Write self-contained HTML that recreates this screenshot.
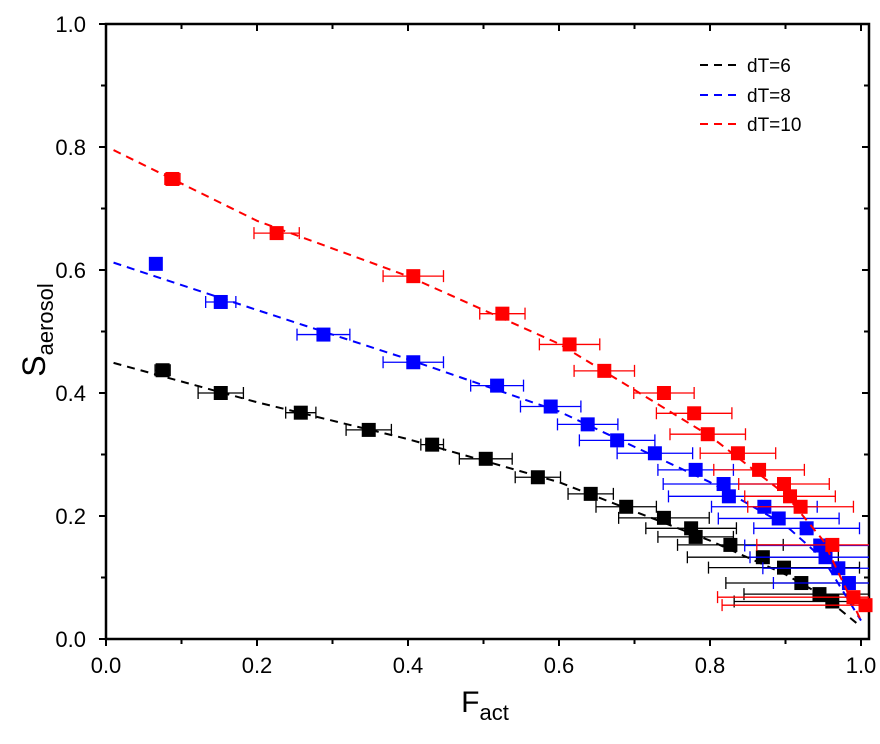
<!DOCTYPE html>
<html><head><meta charset="utf-8"><style>
body{margin:0;background:#fff}
svg{display:block;font-family:"Liberation Sans",Arial,sans-serif}
</style></head><body>
<svg id="chart" width="880" height="744">
<g id="plot"></g>
</svg>
<script>
const xTicks=[0,0.2,0.4,0.6,0.8,1.0];
const yTicks=[0,0.2,0.4,0.6,0.8,1.0];
const tickLabels=["0.0","0.2","0.4","0.6","0.8","1.0"];
const seriesNames=["dT=6","dT=8","dT=10"];
const seriesColors=["#000","#0000ff","#ff0000"];
const blackX=[0.075,0.152,0.258,0.348,0.432,0.503,0.572,0.642,0.689,0.739,0.775,0.781,0.827,0.870,0.898,0.921,0.945,0.962];
const blackY=[0.437,0.400,0.368,0.340,0.316,0.293,0.263,0.236,0.215,0.197,0.180,0.166,0.153,0.133,0.116,0.091,0.073,0.061];
const blackErr=[0.01,0.03,0.02,0.03,0.015,0.035,0.03,0.03,0.04,0.06,0.06,0.05,0.07,0.1,0.1,0.1,0.1,0.13];
const blueX=[0.066,0.152,0.288,0.407,0.518,0.589,0.638,0.677,0.727,0.781,0.818,0.825,0.872,0.891,0.928,0.946,0.953,0.970,0.984];
const blueY=[0.610,0.548,0.495,0.450,0.412,0.378,0.349,0.323,0.302,0.275,0.252,0.232,0.215,0.196,0.180,0.152,0.133,0.115,0.091];
const blueErr=[0.005,0.02,0.035,0.04,0.035,0.04,0.04,0.05,0.05,0.05,0.08,0.08,0.07,0.08,0.07,0.1,0.1,0.1,0.1];
const redX=[0.088,0.226,0.407,0.525,0.614,0.660,0.739,0.779,0.797,0.837,0.865,0.898,0.906,0.920,0.962,0.990,1.006];
const redY=[0.748,0.660,0.590,0.529,0.479,0.436,0.400,0.367,0.333,0.302,0.275,0.252,0.232,0.215,0.153,0.068,0.055];
const redErr=[0.01,0.03,0.04,0.03,0.04,0.04,0.04,0.05,0.05,0.05,0.06,0.06,0.06,0.07,0.1,0.18,0.19];
const fitX=[0.01,0.2,0.4,0.6,0.8,0.9,0.95,1.0];
const fitBlack=[0.449,0.385,0.325,0.255,0.160,0.105,0.07,0.02];
const fitBlue=[0.612,0.535,0.455,0.37,0.255,0.185,0.13,0.03];
const fitRed=[0.795,0.68,0.59,0.48,0.33,0.235,0.16,0.03];

const X0=106,X1=861,Y0=639,Y1=24,RX=869;
const sx=v=>X0+v*(X1-X0), sy=v=>Y0-v*(Y0-Y1);
const NS="http://www.w3.org/2000/svg";
const plot=document.getElementById('plot');
function mk(tag,at,parent){const e=document.createElementNS(NS,tag);for(const k in at)e.setAttribute(k,at[k]);(parent||plot).appendChild(e);return e;}

let fr=mk('rect',{x:X0,y:Y1,width:RX-X0,height:Y0-Y1,fill:'none',stroke:'#000','stroke-width':2.5});


for(let i=0;i<=10;i++){
  const v=i/10, major=i%2===0;
  const x=sx(v), y=sy(v), L=major?7:5;
  let t=mk('line',{x1:x,x2:x,y1:Y0,y2:Y0+L,stroke:'#000','stroke-width':2});
  
  
  mk('line',{x1:x,x2:x,y1:Y1,y2:Y1+L,stroke:'#000','stroke-width':2});
  let u=mk('line',{x1:X0-L,x2:X0,y1:y,y2:y,stroke:'#000','stroke-width':2});
  
  
  mk('line',{x1:RX-L,x2:RX,y1:y,y2:y,stroke:'#000','stroke-width':2});
}
xTicks.forEach((v,i)=>{
  let t=mk('text',{x:sx(v),y:Y0+34,'text-anchor':'middle','font-size':22,fill:'#000'});
  t.textContent=tickLabels[i];
  
  
});
yTicks.forEach((v,i)=>{
  let t=mk('text',{x:X0-20,y:sy(v)+8,'text-anchor':'end','font-size':22,fill:'#000'});
  t.textContent=tickLabels[i];
  
  
});
let xt=mk('text',{x:485,y:712,'text-anchor':'middle','font-size':30,fill:'#000'});
xt.innerHTML='F<tspan font-size="22" dy="8">act</tspan>';


let yt=mk('text',{transform:'translate(45,330) rotate(-90)','text-anchor':'middle','font-size':32,fill:'#000'});
yt.innerHTML='S<tspan font-size="22" dy="8">aerosol</tspan>';



const fits=[fitBlack,fitBlue,fitRed];
const xs=[blackX,blueX,redX], ys=[blackY,blueY,redY], errs=[blackErr,blueErr,redErr];
const cp=mk('clipPath',{id:'cp'});mk('rect',{x:X0,y:Y1,width:RX-X0,height:Y0-Y1},cp);
const keys=['black','blue','red'];
for(let s=0;s<3;s++){
  const c=seriesColors[s];
  const g=mk('g',{});
  
  
  const eg=mk('g',{'clip-path':'url(#cp)'},g);
  xs[s].forEach((x,i)=>{
    const y=sy(ys[s][i]), a=sx(x-errs[s][i]), b=sx(x+errs[s][i]);
    let e=mk('path',{d:`M${a},${y}H${b}M${a},${y-6}V${y+6}M${b},${y-6}V${y+6}`,stroke:c,'stroke-width':1.3,fill:'none'},eg);
    
    
  });
  let line=mk('polyline',{points:fitX.map((x,i)=>sx(x)+','+sy(fits[s][i])).join(' '),fill:'none',stroke:c,'stroke-width':2,'stroke-dasharray':'8,6'},g);
  
  
  xs[s].forEach((x,i)=>{
    let m=mk('rect',{x:sx(x)-7,y:sy(ys[s][i])-7,width:14,height:14,fill:c},g);
    
    
  });
}
const lg=mk('g',{});


[65,95,124].forEach((y,s)=>{
  const e=mk('g',{},lg);
  
  
  mk('line',{x1:700,x2:737,y1:y,y2:y,stroke:seriesColors[s],'stroke-width':2,'stroke-dasharray':'8,6'},e);
  const t=mk('text',{x:747,y:y+7,'font-size':19,fill:'#000'},e);
  t.textContent=seriesNames[s];
});
</script>
</body></html>
